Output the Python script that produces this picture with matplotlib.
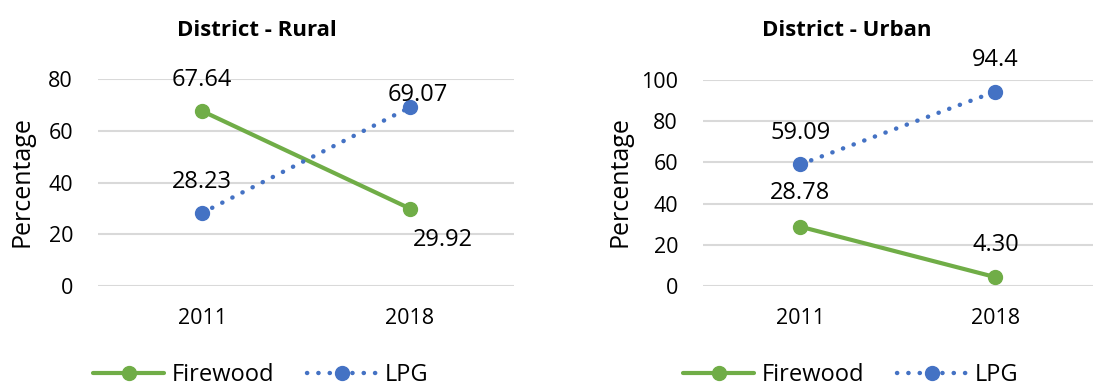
import matplotlib.pyplot as plt
from matplotlib.lines import Line2D

plt.rcParams['font.family'] = ['Open Sans', 'DejaVu Sans']

years = ['2011', '2018']
rural_firewood = [67.64, 29.92]
rural_lpg = [28.23, 69.07]
urban_firewood = [28.78, 4.30]
urban_lpg = [59.09, 94.4]
rural_labels = [['67.64', '29.92'], ['28.23', '69.07']]
urban_labels = [['28.78', '4.30'], ['59.09', '94.4']]

green = '#70AD47'
blue = '#4472C4'
grid_col = '#D9D9D9'
dots = (0, (0.05, 2.5))

fig = plt.figure(figsize=(11.05, 3.85), dpi=100)
ax1 = fig.add_axes([0.0887, 0.2571, 0.3765, 0.5377])
ax2 = fig.add_axes([0.6362, 0.2571, 0.3529, 0.5351])


def draw_panel(ax, fw, lpg, labels, ymax, title, title_x, ylab_x, offsets):
    x = [0, 1]
    ax.plot(x, fw, color=green, lw=3, marker='o', ms=10, solid_capstyle='round', zorder=3)
    ax.plot(x, lpg, color=blue, lw=3.2, ls=dots, dash_capstyle='round',
            marker='o', ms=10, zorder=3)
    ax.set_xlim(-0.5, 1.5)
    ax.set_ylim(0, ymax)
    ax.set_yticks(range(0, ymax + 1, 20))
    ax.set_xticks(x)
    ax.set_xticklabels(years)
    ax.tick_params(length=0, labelsize=15.5, colors='#000000')
    ax.tick_params(axis='y', pad=18)
    ax.tick_params(axis='x', pad=16)
    for s in ax.spines.values():
        s.set_visible(False)
    ax.yaxis.grid(True, color=grid_col, lw=1.5)
    ax.set_axisbelow(True)
    series = [fw, lpg]
    for si in range(2):
        for i in range(2):
            dx, dy = offsets[si][i]
            ax.annotate(labels[si][i], (x[i], series[si][i]), xytext=(dx, dy),
                        textcoords='offset pixels', ha='center', va='center',
                        fontsize=17, color='#000000')
    fig.text(title_x, 1 - 30 / 385, title, ha='center', va='center',
             fontsize=16, fontweight='bold')
    fig.text(ylab_x, 1 - 182 / 385, 'Percentage', rotation=90, ha='center',
             va='center', fontsize=18)


draw_panel(ax1, rural_firewood, rural_lpg, rural_labels, 80, 'District - Rural',
           257 / 1105, 22 / 1105,
           [[(0, 31), (33, -31)], [(0, 31), (8, 12)]])
draw_panel(ax2, urban_firewood, urban_lpg, urban_labels, 100, 'District - Urban',
           847 / 1105, 620 / 1105,
           [[(0, 34), (0, 32)], [(0, 31), (0, 32)]])

handles = [
    Line2D([], [], color=green, lw=3, marker='o', ms=10, solid_capstyle='round'),
    Line2D([], [], color=blue, lw=3.2, ls=dots, dash_capstyle='round',
           marker='o', ms=10),
]
for cx in (261 / 1105, 851 / 1105):
    fig.legend(handles, ['Firewood', 'LPG'], loc='center',
               bbox_to_anchor=(cx, 1 - 375 / 385), ncol=2, frameon=False,
               fontsize=17, handlelength=3.0, columnspacing=1.4, handletextpad=0.3)

fig.savefig('out.png', dpi=100)
